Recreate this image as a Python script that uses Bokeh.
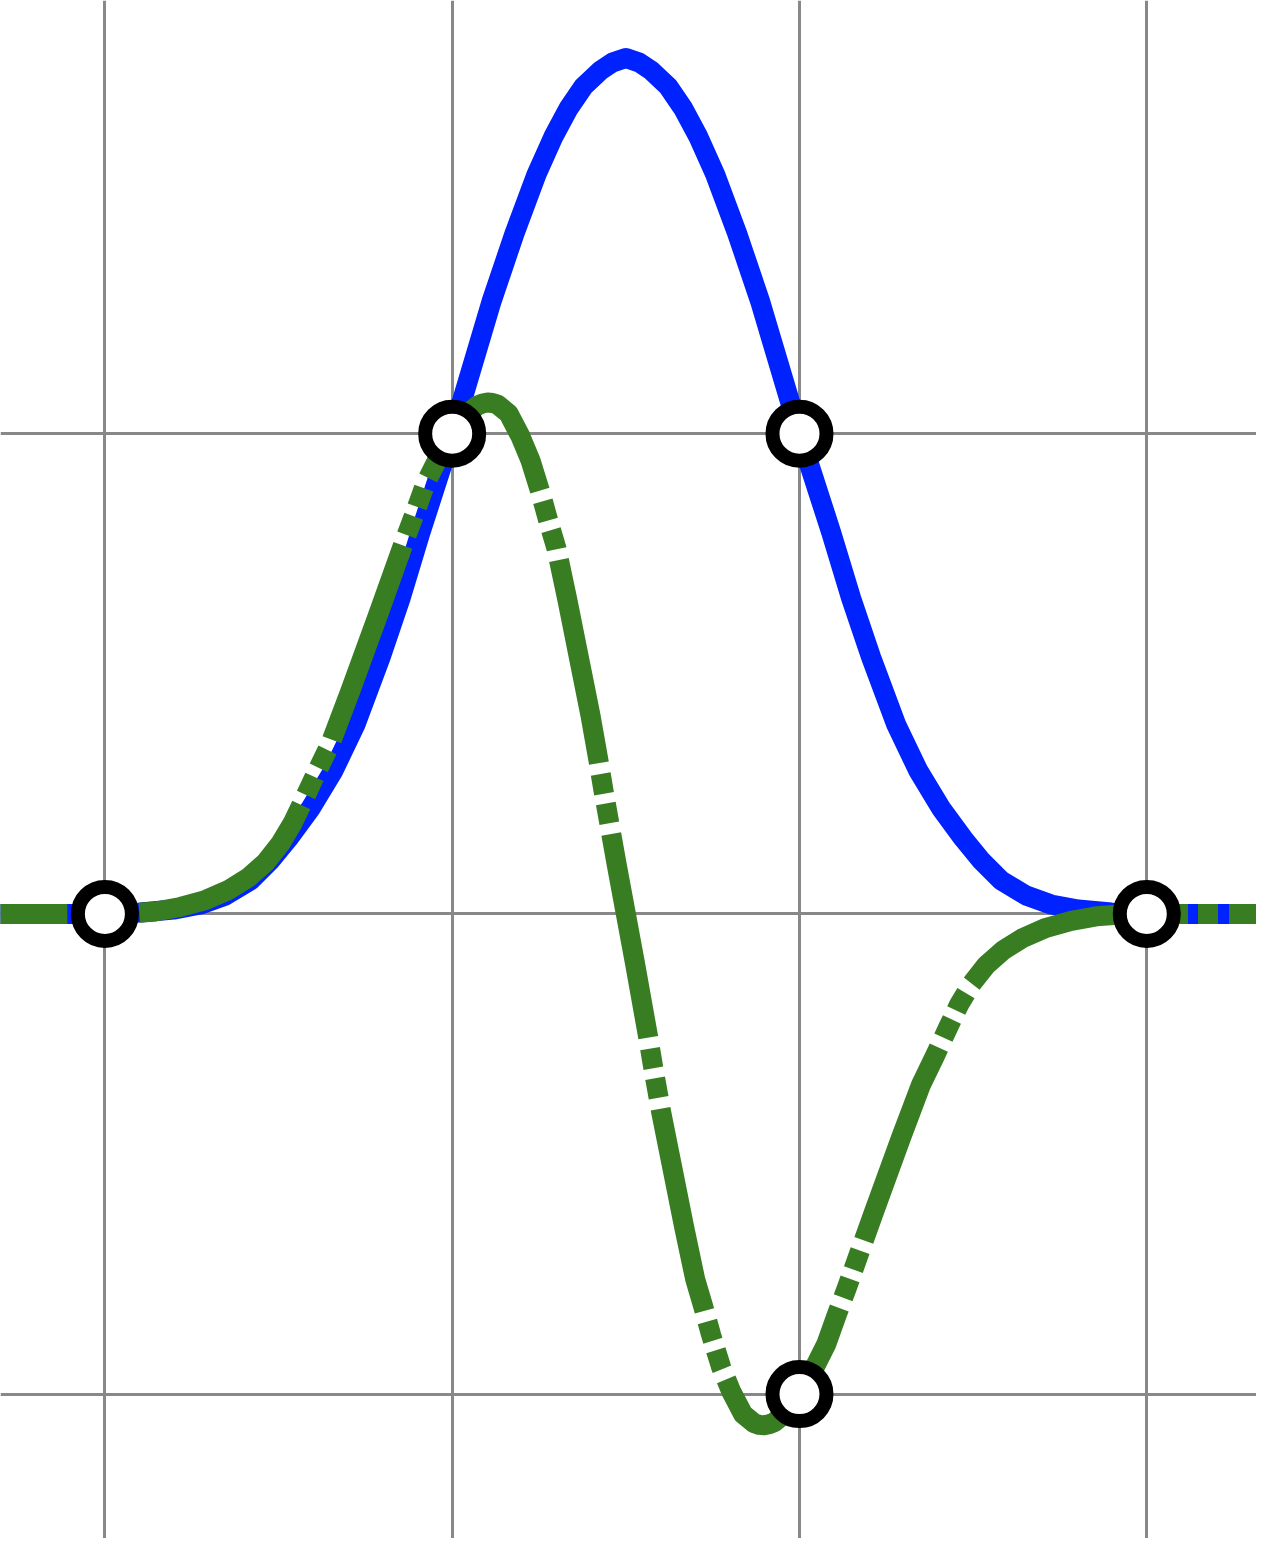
from bokeh.plotting import figure
from bokeh.models import FixedTicker
from bokeh.embed import file_html
from bokeh.resources import INLINE

# ---- data ----
x_ticks = [-1, 0, 1, 2]
y_ticks = [-1, 0, 1]

knot_x = [-1, 0, 1, 1, 2]
knot_y = [0, 1, 1, -1, 0]

blue_x = [-1.35, -1.0, -0.8975, -0.8025, -0.7247, -0.6527, -0.5808, -0.5232, -0.4714,
          -0.408, -0.3418, -0.2784, -0.2064, -0.1489, -0.0913, -0.0337, 0.0, 0.1132,
          0.1794, 0.2427, 0.2917, 0.3349, 0.3781, 0.427, 0.4616, 0.5,
          0.5384, 0.573, 0.6219, 0.6651, 0.7083, 0.7573, 0.8206, 0.8868, 1.0, 1.0337,
          1.0913, 1.1489, 1.2064, 1.2784, 1.3418, 1.408, 1.4714, 1.5232, 1.5808, 1.6527,
          1.7247, 1.8025, 1.8975, 2.0, 2.4]
blue_y = [0, 0, 0.003, 0.009, 0.0196, 0.0383, 0.0696, 0.1112, 0.157,
          0.2195, 0.2986, 0.3944, 0.534, 0.6568, 0.7943, 0.9234, 1.0, 1.2753,
          1.4169, 1.5398, 1.6189, 1.6772, 1.723, 1.7563, 1.773, 1.7824,
          1.773, 1.7563, 1.723, 1.6772, 1.6189, 1.5398, 1.4169, 1.2753, 1.0, 0.9234,
          0.7943, 0.6568, 0.534, 0.3944, 0.2986, 0.2195, 0.157, 0.1112, 0.0696, 0.0383,
          0.0196, 0.009, 0.003, 0, 0]

green_x = [-1.35, -1.0, -0.9263, -0.8543, -0.7823, -0.7103, -0.6441, -0.5865, -0.5376,
           -0.4944, -0.4599, -0.4282, -0.3908, -0.3504, -0.2928, -0.2151, -0.1359, -0.1057,
           -0.0769, -0.0394, 0.0, 0.0412, 0.0728, 0.0872, 0.1016, 0.116, 0.1304, 0.1621,
           0.1967, 0.2255, 0.2542, 0.2773, 0.3003, 0.332, 0.3694, 0.3982, 0.4212, 0.4356,
           0.45, 0.4731, 0.5,
           0.5269, 0.55, 0.5644, 0.5788, 0.6018, 0.6306, 0.668, 0.6997, 0.7227, 0.7458,
           0.7745, 0.8033, 0.8379, 0.8696, 0.884, 0.8984, 0.9128, 0.9272, 0.9588, 1.0,
           1.0394, 1.0769, 1.1057, 1.1359, 1.2151, 1.2928, 1.3504, 1.3908, 1.4282, 1.4599,
           1.4944, 1.5376, 1.5865, 1.6441, 1.7103, 1.7823, 1.8543, 1.9263, 2.0, 2.4]
green_y = [0, 0, 0.0012, 0.005, 0.0144, 0.0289, 0.0498, 0.0758, 0.107,
           0.1466, 0.1883, 0.2362, 0.2945, 0.3549, 0.4652, 0.6193, 0.7797, 0.838,
           0.8963, 0.9504, 1.0, 1.04, 1.0587, 1.0629, 1.065, 1.064, 1.0608, 1.0421,
           0.9942, 0.9442, 0.8775, 0.8172, 0.7609, 0.6526, 0.5173, 0.4132, 0.3194, 0.257,
           0.1987, 0.105, 0.0,
           -0.105, -0.1987, -0.257, -0.3194, -0.4132, -0.5173, -0.6526, -0.7609, -0.8172, -0.8775,
           -0.9442, -0.9942, -1.0421, -1.0608, -1.064, -1.065, -1.0629, -1.0587, -1.04, -1.0,
           -0.9504, -0.8963, -0.838, -0.7797, -0.6193, -0.4652, -0.3549, -0.2945, -0.2362, -0.1883,
           -0.1466, -0.107, -0.0758, -0.0498, -0.0289, -0.0144, -0.005, -0.0012, 0, 0]

# ---- figure ----
p = figure(width=1256, height=1538, output_backend="svg", toolbar_location=None,
           x_range=(-1.3006, 2.3159), y_range=(-1.3007, 1.9021),
           x_axis_location=None, y_axis_location=None, min_border=0,
           background_fill_color="white", border_fill_color="white")
p.outline_line_color = None

p.xgrid.ticker = FixedTicker(ticks=x_ticks)
p.ygrid.ticker = FixedTicker(ticks=y_ticks)
for g in (p.xgrid, p.ygrid):
    g.grid_line_color = "#888888"
    g.grid_line_width = 3
    g.grid_line_alpha = 1.0

p.line(blue_x, blue_y, line_color="#0022ff", line_width=20, line_join="round")
p.line(green_x, green_y, line_color="#387d22", line_width=20, line_join="round",
       line_dash="207 11 20 10 20 11", line_dash_offset=123)

p.scatter(knot_x, knot_y, marker="circle", size=54, fill_color="white",
          line_color="black", line_width=14)

open("out.html", "w").write(file_html(p, INLINE))
